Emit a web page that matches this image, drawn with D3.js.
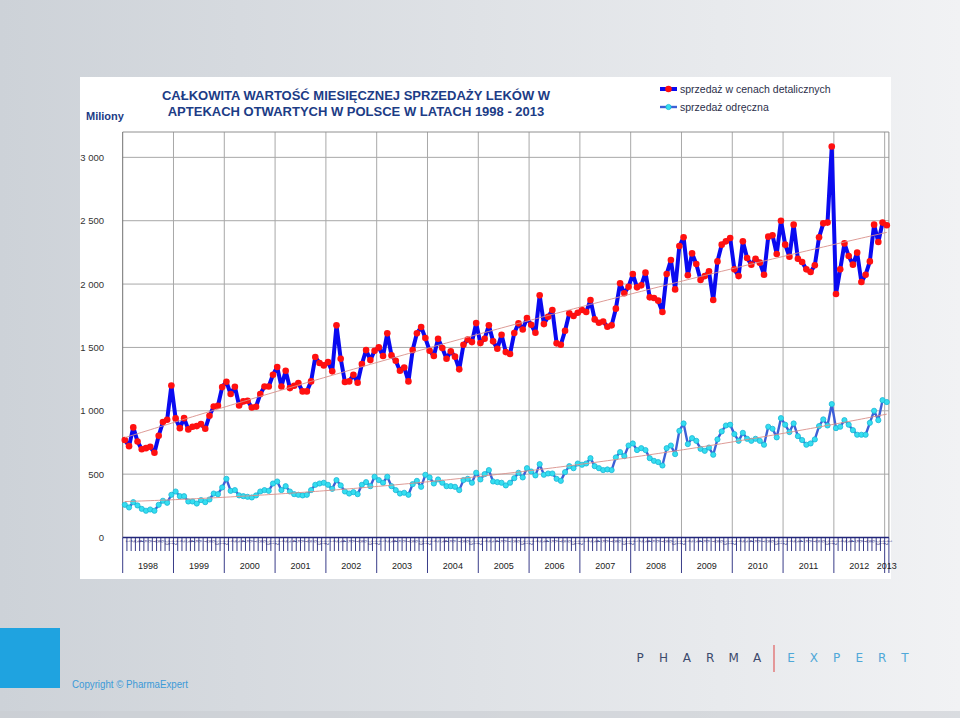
<!DOCTYPE html>
<html><head><meta charset="utf-8">
<script src="https://cdn.jsdelivr.net/npm/d3@7"></script>
<style>html,body{margin:0;padding:0;overflow:hidden;}svg{display:block;}</style>
</head><body>
<svg id="c" width="960" height="718"></svg>
<script>
// ---- DATA ----
const years = ["1998","1999","2000","2001","2002","2003","2004","2005","2006","2007","2008","2009","2010","2011","2012","2013"];
const months = ["1","2","3","4","5","6","7","8","9","10","11","12"];
const yTicks = [0, 500, 1000, 1500, 2000, 2500, 3000];
const seriesNames = ["sprzedaż w cenach detalicznych", "sprzedaż odręczna"];
// retail value, millions PLN, Jan 1998 – Jan 2013
const retail = [
 770, 721, 869, 758, 697, 705, 716, 669, 803, 911, 929,1200,
 940, 863, 942, 853, 874, 879, 895, 858, 961,1034,1040,1187,
1229,1132,1190,1042,1074,1079,1026,1032,1132,1192,1192,1284,
1345,1192,1316,1179,1198,1219,1153,1153,1232,1424,1377,1358,
1384,1311,1674,1411,1227,1232,1284,1221,1369,1479,1400,1474,
1500,1432,1611,1437,1395,1316,1342,1232,1479,1611,1661,1574,
1474,1432,1569,1495,1411,1469,1427,1327,1521,1563,1542,1692,
1534,1569,1674,1548,1490,1600,1463,1448,1614,1690,1642,1732,
1679,1616,1911,1684,1742,1795,1532,1521,1632,1769,1748,1774,
1795,1779,1874,1721,1695,1705,1663,1674,1806,2006,1927,1979,
2079,1974,1990,2090,1895,1890,1869,1779,2079,2190,1958,2300,
2369,2069,2242,2158,2032,2063,2100,1874,2179,2311,2337,2364,
2116,2063,2337,2206,2153,2200,2169,2074,2374,2385,2237,2500,
2311,2216,2469,2200,2174,2116,2095,2148,2369,2479,2485,3085,
1921,2116,2321,2221,2153,2248,2016,2074,2179,2469,2332,2485,
2464];
// OTC sales
const otc = [
 258, 237, 279, 253, 226, 211, 221, 211, 258, 290, 274, 337,
 363, 326, 326, 284, 284, 268, 295, 279, 300, 347, 342, 395,
 463, 368, 374, 332, 326, 321, 316, 332, 363, 374, 368, 426,
 442, 374, 405, 363, 342, 337, 332, 337, 374, 416, 426, 432,
 416, 384, 453, 411, 363, 347, 358, 342, 416, 437, 405, 479,
 453, 432, 479, 405, 374, 347, 353, 337, 421, 447, 400, 495,
 474, 426, 458, 432, 405, 405, 400, 374, 453, 463, 432, 511,
 458, 500, 532, 442, 437, 432, 411, 432, 468, 511, 474, 547,
 521, 490, 579, 495, 505, 505, 463, 447, 516, 563, 547, 584,
 574, 584, 626, 563, 547, 532, 537, 532, 632, 674, 642, 726,
 742, 690, 705, 690, 626, 605, 595, 568, 705, 726, 658, 842,
 900, 737, 784, 763, 700, 684, 710, 653, 774, 837, 884, 890,
 816, 763, 826, 779, 763, 779, 763, 732, 874, 858, 790, 942,
 890, 832, 900, 800, 769, 732, 742, 774, 879, 932, 884,1053,
 863, 874, 926, 890, 847, 811, 811, 811, 905,1000, 926,1084,
1069];

// ---- CATEGORIES ----
const cats = retail.map((d,i)=>({year: years[Math.floor(i/12)], month: months[i%12], i}));

const svg = d3.select("#c");
const defs = svg.append("defs");
const bg = defs.append("linearGradient").attr("id","bg").attr("x1","0").attr("x2","1").attr("y1","0").attr("y2","0");
bg.append("stop").attr("offset","0").attr("stop-color","#cdd2d8");
bg.append("stop").attr("offset","1").attr("stop-color","#f1f2f4");
svg.append("rect").attr("width",960).attr("height",718).attr("fill","url(#bg)");
svg.append("rect").attr("x",0).attr("y",711).attr("width",960).attr("height",7).attr("fill","#c9cdd2").attr("opacity",0.6);

// chart panel
svg.append("rect").attr("x",80).attr("y",77).attr("width",811).attr("height",502).attr("fill","#ffffff");

const pLeft = 122.7, pRight = 888.9, pTop = 132, pBottom = 537.5;
const x = d3.scaleBand().domain(d3.range(cats.length)).range([pLeft, pRight]).padding(0);
const y = d3.scaleLinear().domain([0, 3200]).range([pBottom, pTop]);
const cx = i => x(i) + x.bandwidth()/2;

const g = svg.append("g");
g.selectAll("line.hg").data(yTicks.filter(d=>d>0)).join("line")
 .attr("x1",pLeft).attr("x2",pRight).attr("y1",d=>y(d)).attr("y2",d=>y(d))
 .attr("stroke","#a8a8a8").attr("stroke-width",1);
const yearStarts = d3.range(1, years.length).map(k=>k*12).filter(k=>k<cats.length);
g.selectAll("line.vg").data(yearStarts).join("line")
 .attr("x1",d=>x(d)).attr("x2",d=>x(d)).attr("y1",pTop).attr("y2",pBottom)
 .attr("stroke","#a8a8a8").attr("stroke-width",1);
g.append("line").attr("x1",pLeft).attr("x2",pRight).attr("y1",pTop).attr("y2",pTop).attr("stroke","#909090");
g.append("line").attr("x1",pLeft).attr("x2",pLeft).attr("y1",pTop).attr("y2",pBottom).attr("stroke","#707070");
g.append("line").attr("x1",pRight).attr("x2",pRight).attr("y1",pTop).attr("y2",pBottom).attr("stroke","#909090");

const tf = "Liberation Sans, Arial, sans-serif";
g.selectAll("text.yt").data(yTicks).join("text")
 .attr("x",104).attr("y",d=>y(d)+3.5).attr("text-anchor","end")
 .attr("font-family",tf).attr("font-size",9.5).attr("fill","#333")
 .text(d=>d3.format(",")(d).replace(/,/g," "));

// x axis (two-level category axis)
const axisCol = "#22267a";
const ax = svg.append("g");
ax.append("line").attr("x1",pLeft).attr("x2",pRight).attr("y1",pBottom).attr("y2",pBottom).attr("stroke",axisCol).attr("stroke-width",1.5);
ax.selectAll("line.mt").data(d3.range(cats.length+1)).join("line")
 .attr("x1",d=>d<cats.length?x(d):pRight).attr("x2",d=>d<cats.length?x(d):pRight)
 .attr("y1",pBottom).attr("y2",d=>(d%12===0||d===cats.length)?573:551)
 .attr("stroke",axisCol).attr("stroke-width",0.9);
ax.selectAll("text.ml").data(cats).join("text")
 .attr("transform",d=>`translate(${cx(d.i)+1.6},${540}) rotate(90)`)
 .attr("font-family",tf).attr("font-size",4.6).attr("fill",axisCol)
 .text(d=>d.month);
const yearCenters = years.map(yr=>{
  const idx = cats.filter(c=>c.year===yr).map(c=>c.i);
  return {yr, c:(x(idx[0]) + x(idx[idx.length-1]) + x.bandwidth())/2};
});
ax.selectAll("text.yl").data(yearCenters).join("text")
 .attr("x",d=>d.c).attr("y",569).attr("text-anchor","middle")
 .attr("font-family",tf).attr("font-size",9).attr("fill","#222")
 .text(d=>d.yr);

// trend (quadratic least squares)
function polyfit2(vals){
  const n=vals.length; let S=[0,0,0,0,0], T=[0,0,0];
  vals.forEach((v,i)=>{const t=i/(n-1); let p=1; for(let k=0;k<5;k++){S[k]+=p; if(k<3)T[k]+=v*p; p*=t;}});
  const A=[[S[0],S[1],S[2],T[0]],[S[1],S[2],S[3],T[1]],[S[2],S[3],S[4],T[2]]];
  for(let c=0;c<3;c++){for(let r=c+1;r<3;r++){const f=A[r][c]/A[c][c];for(let k=c;k<4;k++)A[r][k]-=f*A[c][k];}}
  const b=[0,0,0];for(let r=2;r>=0;r--){let s=A[r][3];for(let k=r+1;k<3;k++)s-=A[r][k]*b[k];b[r]=s/A[r][r];}
  return vals.map((v,i)=>{const t=i/(n-1);return b[0]+b[1]*t+b[2]*t*t;});
}
const line = d3.line().x((d,i)=>cx(i)).y(d=>y(d));

// OTC series
svg.append("path").attr("d",line(otc)).attr("fill","none").attr("stroke","#3d5fd6").attr("stroke-width",2.4).attr("stroke-linejoin","round");
svg.append("g").selectAll("circle").data(otc).join("circle")
 .attr("cx",(d,i)=>cx(i)).attr("cy",d=>y(d)).attr("r",2.6)
 .attr("fill","#35def0").attr("stroke","#1cb6d6").attr("stroke-width",0.8);
// retail series
svg.append("path").attr("d",line(retail)).attr("fill","none").attr("stroke","#0a0af0").attr("stroke-width",4).attr("stroke-linejoin","round");
svg.append("g").selectAll("circle").data(retail).join("circle")
 .attr("cx",(d,i)=>cx(i)).attr("cy",d=>y(d)).attr("r",3.3).attr("fill","#ff1010");
// trendlines
[retail, otc].forEach(s=>{
  svg.append("path").attr("d",line(polyfit2(s))).attr("fill","none").attr("stroke","#d9908a").attr("stroke-width",0.9);
});

// titles
svg.append("text").attr("x",86).attr("y",120).attr("font-family",tf).attr("font-weight","bold").attr("font-size",11).attr("fill","#1c3c86").text("Miliony");
svg.append("text").attr("x",356).attr("y",100).attr("text-anchor","middle").attr("font-family",tf).attr("font-weight","bold").attr("font-size",13).attr("fill","#1c3c86").text("CAŁKOWITA WARTOŚĆ MIESIĘCZNEJ SPRZEDAŻY LEKÓW W");
svg.append("text").attr("x",356).attr("y",116).attr("text-anchor","middle").attr("font-family",tf).attr("font-weight","bold").attr("font-size",13).attr("fill","#1c3c86").text("APTEKACH OTWARTYCH W POLSCE W LATACH 1998 - 2013");

// legend
const lg = svg.append("g");
const legendItems = [
  {name: seriesNames[0], line:"#0a0af0", lw:4, fill:"#ff1010", stroke:"none", r:3.3, yy:89},
  {name: seriesNames[1], line:"#3d5fd6", lw:2.4, fill:"#35def0", stroke:"#1cb6d6", r:2.6, yy:107}
];
legendItems.forEach(it=>{
  lg.append("line").attr("x1",660).attr("x2",677).attr("y1",it.yy).attr("y2",it.yy).attr("stroke",it.line).attr("stroke-width",it.lw);
  lg.append("circle").attr("cx",668.5).attr("cy",it.yy).attr("r",it.r).attr("fill",it.fill).attr("stroke",it.stroke).attr("stroke-width",0.8);
  lg.append("text").attr("x",680).attr("y",it.yy+4).attr("font-family",tf).attr("font-size",10.5).attr("fill","#2c2f4a").text(it.name);
});

// footer
svg.append("rect").attr("x",0).attr("y",628).attr("width",60).attr("height",60).attr("fill","#1fa3e0");
svg.append("text").attr("x",72).attr("y",688).attr("font-family",tf).attr("font-size",11).attr("fill","#3c9ad8")
 .attr("textLength",116).attr("lengthAdjust","spacingAndGlyphs").text("Copyright © PharmaExpert");
const logo1 = "PHARMA".split(""), logo2 = "EXPERT".split("");
svg.append("g").selectAll("text").data(logo1).join("text")
 .attr("x",(d,i)=>640+i*23.4).attr("y",662).attr("text-anchor","middle")
 .attr("font-family","DejaVu Sans, sans-serif").attr("font-size",12).attr("fill","#3b4a6c").text(d=>d);
svg.append("g").selectAll("text").data(logo2).join("text")
 .attr("x",(d,i)=>791+i*22.8).attr("y",662).attr("text-anchor","middle")
 .attr("font-family","DejaVu Sans, sans-serif").attr("font-size",12).attr("fill","#4fa8d8").text(d=>d);
svg.append("line").attr("x1",774).attr("x2",774).attr("y1",645).attr("y2",672).attr("stroke","#e06060").attr("stroke-width",1.2);
</script>
</body></html>
